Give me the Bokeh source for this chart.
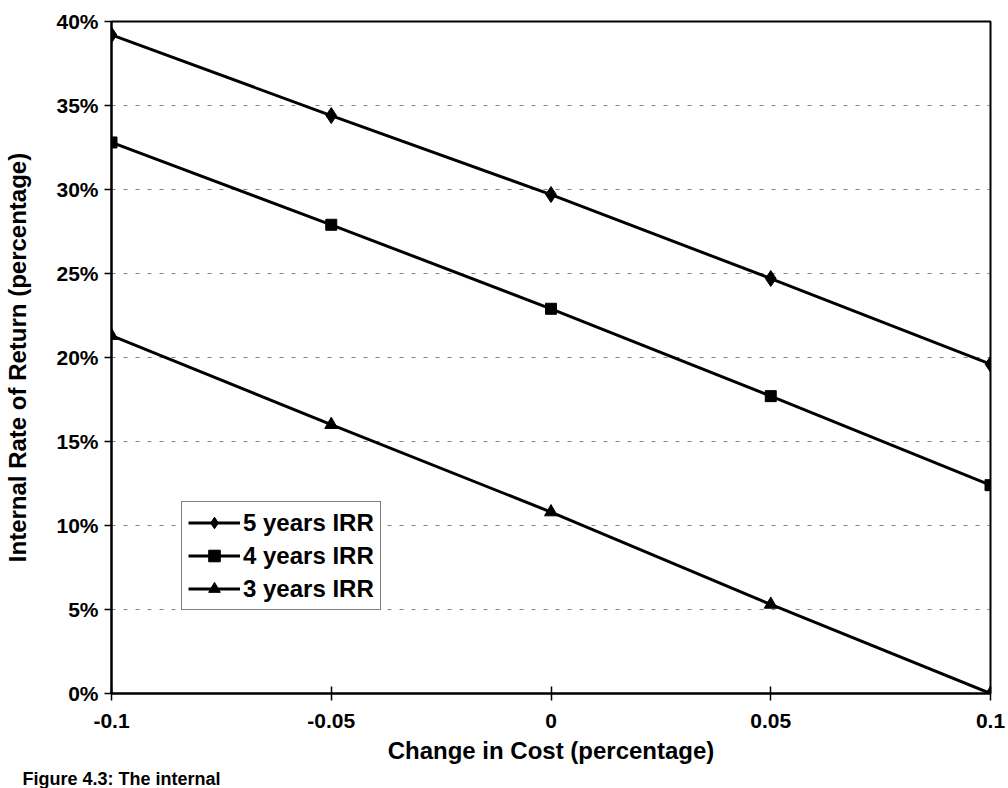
from bokeh.plotting import figure
from bokeh.models import (Range1d, FixedTicker, NumeralTickFormatter, Legend, LegendItem, Title)
from bokeh.embed import file_html
from bokeh.resources import INLINE

# Change in cost (fraction) and internal rate of return for each horizon
change_in_cost = [-0.1, -0.05, 0.0, 0.05, 0.1]
x_tick_labels = ["-0.1", "-0.05", "0", "0.05", "0.1"]
irr_5_years = [0.392, 0.344, 0.297, 0.247, 0.196]
irr_4_years = [0.328, 0.279, 0.229, 0.177, 0.124]
irr_3_years = [0.213, 0.160, 0.108, 0.053, 0.000]
y_ticks = [0.0, 0.05, 0.10, 0.15, 0.20, 0.25, 0.30, 0.35, 0.40]

series = [
    ("5 years IRR", irr_5_years, "diamond", 16),
    ("4 years IRR", irr_4_years, "square", 11),
    ("3 years IRR", irr_3_years, "triangle", 13),
]

FONT = "Liberation Sans"

p = figure(width=1008, height=788, output_backend="svg", toolbar_location=None,
           x_range=Range1d(-0.1, 0.1), y_range=Range1d(0.0, 0.40),
           min_border_left=111, min_border_right=18, min_border_top=21, min_border_bottom=0)
p.background_fill_color = "white"
p.border_fill_color = "white"
p.outline_line_color = "black"
p.outline_line_width = 2

# grid: faint dashed horizontals only
p.xgrid.grid_line_color = None
p.ygrid.grid_line_color = "#333333"
p.ygrid.grid_line_width = 1
p.ygrid.grid_line_dash = "4 8"
p.ygrid.grid_line_alpha = 0.6

# axes
p.xaxis.ticker = FixedTicker(ticks=change_in_cost)
p.xaxis.major_label_overrides = {v: s for v, s in zip(change_in_cost, x_tick_labels)}
p.yaxis.ticker = FixedTicker(ticks=y_ticks)
p.yaxis.formatter = NumeralTickFormatter(format="0%")
for ax in (p.xaxis, p.yaxis):
    ax.axis_line_color = "black"
    ax.axis_line_width = 2
    ax.major_tick_line_color = "black"
    ax.major_tick_line_width = 1.5
    ax.minor_tick_line_color = None
    ax.major_label_text_font = FONT
    ax.major_label_text_font_style = "bold"
    ax.major_label_text_font_size = "21px"
    ax.major_label_text_color = "black"
    ax.axis_label_text_font = FONT
    ax.axis_label_text_font_style = "bold"
    ax.axis_label_text_font_size = "24px"
    ax.axis_label_text_color = "black"
p.xaxis.major_tick_in = 7
p.xaxis.major_tick_out = 7
p.xaxis.major_label_standoff = 13
p.xaxis.axis_label = "Change in Cost (percentage)"
p.xaxis.axis_label_standoff = 6
p.yaxis.major_tick_in = 0
p.yaxis.major_tick_out = 7
p.yaxis.major_label_standoff = 6
p.yaxis.axis_label = "Internal Rate of Return (percentage)"
p.yaxis.axis_label_standoff = 22

items = []
for name, vals, marker, size in series:
    ln = p.line(change_in_cost, vals, line_color="black", line_width=3)
    sc = p.scatter(change_in_cost, vals, marker=marker, size=size,
                   fill_color="black", line_color="black")
    items.append(LegendItem(label=name, renderers=[ln, sc]))

legend = Legend(items=items, location=(70, 83))
legend.label_text_font = FONT
legend.label_text_font_style = "bold"
legend.label_text_font_size = "24px"
legend.label_text_color = "black"
legend.glyph_width = 52
legend.glyph_height = 29
legend.label_standoff = 3
legend.spacing = 4
legend.padding = 6
legend.margin = 0
legend.border_line_color = "black"
legend.border_line_width = 1.5
legend.background_fill_color = "white"
legend.background_fill_alpha = 1
p.add_layout(legend, "center")

# figure caption beneath the x-axis title
caption = Title(text="Figure 4.3: The internal", align="left", offset=-89,
                text_font=FONT, text_font_style="bold", text_font_size="18px",
                text_color="black", standoff=0)
p.add_layout(caption, "below")

open("out.html", "w").write(file_html(p, INLINE))
